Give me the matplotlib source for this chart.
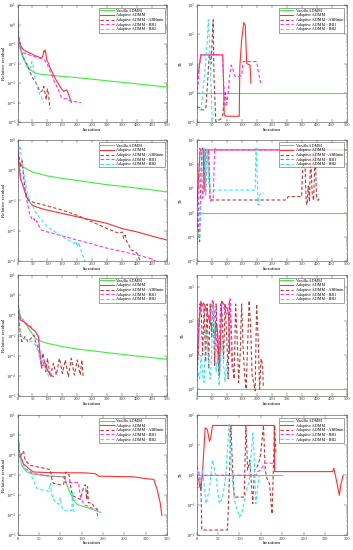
import numpy as np
import matplotlib
matplotlib.use("Agg")
import matplotlib.pyplot as plt
from matplotlib.ticker import LogLocator, NullFormatter

plt.rcParams["font.family"] = ["Liberation Serif", "DejaVu Serif"]
plt.rcParams["mathtext.fontset"] = "stix"

labels = ["Vanilla ADMM", "Adaptive ADMM", "Adaptive ADMM - ABBmin",
          "Adaptive ADMM - BB1", "Adaptive ADMM - BB2"]

# all y values below are log10 of the plotted quantity

# ---- row 1, relative residual
r1_van_it = [0, 3, 9, 15, 26, 35, 42, 55, 65, 80, 100, 132, 200, 300, 400, 500]
r1_van_lg = [0.5, -0.5, -1.13, -1.5, -1.9, -2.15, -2.32, -2.45, -2.5, -2.55, -2.58, -2.63, -2.72, -2.88, -3.04, -3.2]
r1_ada_it = [0, 3, 10, 20, 40, 60, 81, 85, 88, 90, 93, 98, 104, 109, 115, 120, 126, 132, 138, 143, 148, 154, 160, 165, 171, 176, 180]
r1_ada_lg = [0.3, -0.6, -1.05, -1.3, -1.45, -1.6, -1.72, -1.6, -1.35, -1.4, -1.3, -1.81, -2.0, -2.24, -2.4, -2.58, -2.75, -2.92, -3.05, -3.2, -3.3, -3.43, -3.38, -3.35, -3.6, -3.8, -4.0]
r1_abb_it = [0, 3, 9, 15, 25, 32, 37, 42, 48, 55, 62, 68, 73, 78, 82, 88, 92, 96, 100, 104, 108, 110]
r1_abb_lg = [0.3, -0.6, -1.13, -1.5, -1.9, -2.05, -2.24, -2.45, -2.66, -2.85, -3.0, -3.2, -3.35, -3.45, -3.4, -3.17, -3.5, -3.85, -3.3, -3.6, -4.28, -4.3]
r1_bb1_it = [0, 2, 5, 10, 20, 48, 70, 87, 92, 98, 104, 109, 115, 120, 126, 132, 138, 143, 148, 155, 165, 175, 182, 195, 205, 213]
r1_bb1_lg = [0.5, -0.3, -1.0, -1.3, -1.45, -1.6, -1.7, -1.78, -1.85, -2.0, -2.2, -2.4, -2.6, -2.83, -3.0, -3.2, -3.4, -3.6, -3.77, -3.8, -3.8, -3.9, -3.94, -3.95, -4.0, -4.0]
r1_bb2_it = [0, 2, 5, 10, 18, 25, 32, 38, 43, 48, 52, 56, 60, 65, 70, 75, 80, 85, 88]
r1_bb2_lg = [0.7, -0.3, -0.9, -1.3, -1.7, -1.9, -2.2, -2.3, -2.2, -1.9, -2.1, -2.5, -2.9, -3.17, -3.4, -3.6, -3.7, -3.94, -4.0]

# ---- row 1, tau
t1_van_it = [0, 500]
t1_van_lg = [0, 0]
t1_ada_it = [0, 9, 14, 87, 90, 92, 96, 142, 144, 150, 157, 162, 167, 178, 181]
t1_ada_lg = [0.44, 0.9, 1.3, 1.3, 0.2, -0.75, -0.8, -0.8, 0.9, 1.8, 2.4, 2.32, 1.0, 0.95, 0.33]
t1_abb_it = [0, 10, 15, 25, 31, 38, 42, 48, 52, 55, 58, 64, 70, 80, 87, 92, 96, 100]
t1_abb_lg = [-0.47, -0.5, -0.58, -0.58, -0.5, 0.6, 1.3, 1.0, 1.8, 2.5, 0.5, -0.98, -0.95, -0.9, -0.75, -0.25, 0.0, -0.35]
t1_bb1_it = [0, 5, 9, 14, 87, 90, 95, 100, 105, 110, 115, 120, 125, 130, 140, 150, 155, 165, 175, 190, 200, 210, 213]
t1_bb1_lg = [-0.1, 0.3, 0.9, 1.3, 1.3, 0.3, -0.4, -0.47, 0.0, 0.6, 0.95, 0.85, 0.65, 0.55, 0.55, 0.6, 1.07, 1.07, 1.07, 1.07, 1.07, 0.5, 0.33]
t1_bb2_it = [0, 5, 15, 22, 29, 35, 39, 44, 49, 53, 60, 70, 81]
t1_bb2_lg = [-0.47, -0.58, -0.58, 0.2, 0.9, 1.7, 2.5, 1.5, 0.0, -1.2, -1.2, -1.2, -1.2]

# ---- row 2, relative residual
r2_van_it = [0, 2, 5, 10, 20, 50, 100, 150, 200, 250, 300, 350, 400, 450, 500]
r2_van_lg = [0, -0.52, -0.79, -0.84, -0.9, -1.06, -1.19, -1.27, -1.34, -1.41, -1.48, -1.53, -1.59, -1.65, -1.72]
r2_ada_it = [0, 5, 10, 20, 30, 40, 50, 60, 80, 100, 150, 200, 250, 300, 350, 400, 450, 500]
r2_ada_lg = [0, -0.84, -1.28, -1.56, -1.88, -2.05, -2.16, -2.2, -2.27, -2.32, -2.43, -2.54, -2.65, -2.76, -2.93, -3.04, -3.18, -3.31]
r2_abb_it = [0, 5, 10, 15, 20, 25, 30, 35, 40, 50, 100, 150, 200, 250, 300, 340, 350, 355, 360, 365, 370, 375, 380, 390, 400, 405, 410]
r2_abb_lg = [0, -0.52, -0.9, -0.68, -1.17, -1.61, -1.83, -1.94, -1.99, -2.05, -2.18, -2.32, -2.49, -2.71, -2.93, -3.09, -3.04, -3.25, -3.15, -3.36, -3.42, -3.53, -3.64, -3.67, -3.75, -3.86, -4.0]
r2_bb1_it = [0, 5, 10, 20, 30, 40, 50, 55, 60, 65, 70, 80, 100, 150, 200, 250, 300, 350, 400, 450, 460]
r2_bb1_lg = [0, -0.73, -1.28, -1.56, -1.94, -2.43, -2.65, -2.6, -2.73, -2.68, -2.82, -2.98, -3.04, -3.17, -3.31, -3.44, -3.58, -3.69, -3.8, -3.93, -4.0]
r2_bb2_it = [0, 3, 8, 15, 20, 30, 40, 50, 60, 80, 100, 150, 190, 195, 200, 205, 210, 218, 225]
r2_bb2_lg = [0, -0.35, -0.19, -0.73, -1.06, -1.61, -2.05, -2.16, -2.38, -2.65, -2.87, -3.2, -3.42, -3.34, -3.53, -3.39, -3.58, -3.8, -4.0]

# ---- row 2, tau
t2_van_it = [0, 500]
t2_van_lg = [0, 0]
t2_ada_it = [0, 5, 8, 12, 22, 25, 28, 500]
t2_ada_lg = [0, 1.14, 1.83, 2.59, 2.59, 0.87, 2.59, 2.59]
t2_abb_it = [0, 5, 10, 15, 20, 25, 30, 35, 40, 45, 50, 300, 305, 350, 355, 360, 365, 368, 372, 376, 380, 385, 390, 395, 400, 405, 410]
t2_abb_lg = [0, -0.5, -1.2, 1.83, 2.66, 2.5, 0.73, 2.59, 2.59, 0.52, 0.52, 0.52, 0.66, 0.66, 2.38, 2.52, 0.45, 0.31, 1.1, 0.45, 2.4, 0.8, 0.5, 2.5, 0.6, 0.5, 0.66]
t2_bb1_it = [0, 5, 10, 15, 20, 25, 30, 40, 45, 50, 55, 60, 65, 460]
t2_bb1_lg = [0, -0.65, 2.66, 2.59, 0.59, 1.5, 2.59, 2.59, 0.45, 0.52, 0.52, 2.66, 2.59, 2.59]
t2_bb2_it = [0, 5, 10, 15, 20, 25, 30, 35, 40, 45, 195, 198, 202, 205, 210, 215, 220, 225]
t2_bb2_lg = [-0.65, -0.93, -1.06, 0.45, 2.52, 2.66, 0.73, 2.66, 1.28, 0.93, 0.93, 2.66, 1.5, 0.31, 0.73, 0.8, 0.8, 0.8]

# ---- row 3, relative residual
r3_van_it = [0, 5, 10, 20, 40, 60, 80, 100, 150, 200, 300, 400, 500]
r3_van_lg = [0.01, -0.9, -1.1, -1.23, -1.73, -2.14, -2.3, -2.39, -2.55, -2.67, -2.85, -3.02, -3.18]
r3_ada_it = [0, 5, 10, 20, 40, 60, 70, 73, 76, 80, 85, 90, 95, 100, 110, 120]
r3_ada_lg = [0.09, -0.9, -1.23, -1.31, -1.56, -1.81, -2.06, -2.6, -2.97, -3.55, -3.46, -3.3, -3.5, -3.71, -3.96, -4.04]
r3_abb_it = [0, 5, 10, 15, 25, 35, 45, 55, 60, 70, 80, 85, 95, 100, 110, 120, 130, 140, 150, 160, 170, 180, 190, 200, 210, 215, 220]
r3_abb_lg = [0.01, -1.23, -1.98, -2.31, -2.06, -2.31, -2.14, -1.98, -2.31, -2.64, -3.46, -2.88, -3.79, -3.13, -4.04, -3.38, -3.96, -3.13, -3.88, -3.21, -4.04, -3.13, -3.96, -3.21, -3.96, -3.21, -4.12]
r3_bb1_it = [0, 5, 10, 20, 40, 60, 70, 73, 77, 80, 85, 90, 95, 100, 108, 115]
r3_bb1_lg = [0.17, -0.8, -1.23, -1.31, -1.5, -1.81, -2.06, -2.6, -3.05, -3.63, -3.55, -3.3, -3.5, -3.71, -3.9, -4.04]
r3_bb2_it = [0, 5, 10, 20, 30, 50, 60, 70, 75, 80, 90, 100, 105]
r3_bb2_lg = [0.5, -1.56, -1.98, -2.14, -2.22, -2.31, -2.47, -2.8, -3.21, -3.3, -3.55, -3.88, -4.04]

# ---- row 3, tau
t3_van_it = [0, 500]
t3_van_lg = [0, 0]
t3_ada_it = [0, 3, 7, 14, 18, 22, 26, 30, 35, 42, 48, 53, 58, 62, 65, 68, 71, 76, 80, 84, 87, 92, 96, 100, 103, 107, 110]
t3_ada_lg = [0.27, 0.86, 1.75, 2.58, 2.43, 2.53, 2.48, 2.38, 2.28, 2.04, 1.89, 1.75, 1.65, 1.55, 1.94, 1.84, 1.55, 0.37, 1.55, 2.58, 2.53, 2.48, 2.43, 2.38, 2.38, 2.14, 1.06]
t3_abb_it = [0, 5, 10, 15, 20, 25, 30, 35, 40, 45, 50, 55, 60, 65, 70, 75, 80, 85, 90, 95, 100, 105, 110, 115, 120, 125, 130, 135, 140, 145, 150, 155, 160, 165, 175, 180, 185, 190, 195, 200, 205, 210, 215, 220, 222]
t3_abb_lg = [0.2, 1.0, 2.5, 2.4, 1.0, 2.4, 0.8, 2.5, 0.6, 2.5, 1.5, 2.55, 0.7, 2.5, 1.2, 0.4, 2.5, 2.2, 0.9, 2.5, 1.6, 0.3, 2.6, 1.9, 0.7, 0.3, 2.5, 1.5, 0.2, 1.0, 2.5, 1.2, 0.4, 0.0, 2.6, 1.8, 0.4, 0.2, -0.05, 2.5, 1.5, 0.0, 0.9, 0.7, 0.1]
t3_bb1_it = [0, 4, 8, 14, 20, 26, 32, 38, 45, 52, 58, 62, 66, 70, 75, 80, 85, 90, 95, 100, 106, 112, 116, 118]
t3_bb1_lg = [0.4, 1.2, 2.0, 2.5, 2.45, 2.4, 2.3, 2.1, 2.0, 2.6, 2.4, 1.7, 1.55, 0.8, 0.6, 2.5, 2.45, 2.4, 2.3, 2.2, 2.45, 2.65, 1.0, 0.6]
t3_bb2_it = [0, 5, 10, 15, 20, 25, 30, 35, 40, 45, 50, 55, 60, 65, 70, 75, 80, 85, 90, 95, 100, 105]
t3_bb2_lg = [0.2, 0.5, 0.3, 1.0, 0.4, 0.2, 1.8, 1.5, 0.8, 0.3, 1.0, 2.4, 1.8, 0.5, 1.0, 0.1, 1.0, 1.4, 0.7, 0.2, 0.8, 0.6]

# ---- row 4, relative residual
r4_van_it = [0, 4, 10, 22, 37, 77, 112, 114, 123, 131, 139, 155, 170, 194]
r4_van_lg = [0.03, -0.94, -1.51, -1.84, -1.95, -2.05, -2.08, -2.4, -2.89, -3.21, -3.46, -3.57, -3.67, -3.86]
r4_ada_it = [0, 5, 14, 26, 37, 77, 116, 155, 182, 190, 272, 295, 319, 327, 334, 338]
r4_ada_lg = [0.27, -0.94, -1.43, -1.67, -1.84, -1.87, -1.88, -1.88, -1.92, -2.05, -2.08, -2.16, -2.21, -2.73, -3.38, -4.02]
r4_abb_it = [0, 6, 14, 18, 30, 77, 80, 84, 100, 108, 113, 120, 127, 131, 147, 155, 159, 162, 164, 166, 174, 178, 186, 190]
r4_abb_lg = [0.19, -1.1, -0.78, -1.27, -1.51, -1.72, -2.16, -2.4, -2.48, -2.45, -1.84, -1.92, -2.89, -3.05, -3.21, -2.57, -2.48, -3.21, -2.57, -3.38, -3.38, -3.54, -3.7, -3.78]
r4_bb1_it = [0, 5, 18, 37, 77, 108, 112, 143, 147, 155, 170, 186, 188]
r4_bb1_lg = [0.51, -0.94, -1.67, -1.92, -2.05, -2.08, -2.37, -2.37, -3.05, -3.46, -3.62, -3.7, -4.19]
r4_bb2_it = [0, 5, 10, 22, 30, 37, 45, 61, 73, 77, 79, 84, 96, 100, 104, 112, 127, 129, 131, 139]
r4_bb2_lg = [0.51, -0.94, -1.51, -1.76, -1.92, -2.24, -2.65, -2.76, -2.81, -2.4, -2.89, -3.21, -3.46, -3.13, -3.62, -3.78, -3.78, -2.81, -3.78, -3.86]

# ---- row 4, tau
t4_van_it = [0, 200]
t4_van_lg = [0, 0]
t4_ada_it = [0, 5, 10, 14, 20, 25, 30, 33, 37, 181, 182, 317, 320, 326, 333, 337, 342]
t4_ada_lg = [0.0, -0.16, -0.5, 0.17, 1.58, 1.53, 1.13, 1.25, 1.66, 1.66, 0.12, 0.12, 0.23, -0.16, -0.67, -0.28, 0.0]
t4_abb_it = [0, 6, 10, 12, 72, 76, 80, 84, 88, 111, 115, 119, 124, 131, 135, 142, 148, 150, 156, 160, 164, 170, 176, 179, 182, 185]
t4_abb_lg = [-0.22, -0.39, -0.22, -1.83, -1.83, -0.28, 1.64, 0.17, -0.73, -0.73, 1.66, 0.17, 0.51, -0.95, 0.17, 0.29, 0.57, 0.8, 1.66, 0.17, -0.1, -0.28, -1.29, 0.17, 1.66, 0.74]
t4_bb1_it = [0, 4, 10, 14, 138, 142, 150, 158, 181, 183]
t4_bb1_lg = [0.29, 0.17, -0.28, 0.0, 0.0, 0.12, 0.17, 0.4, 0.4, 0.4]
t4_bb2_it = [0, 6, 14, 22, 30, 37, 45, 53, 61, 68, 76, 80, 88, 100, 107, 115, 123, 131, 134, 138, 146]
t4_bb2_lg = [-0.44, -0.39, 0.17, -0.95, -0.44, 0.51, -0.05, -0.95, -0.73, 0.0, 1.7, 0.4, -0.84, -1.4, -1.18, -0.56, -0.17, 1.41, 0.74, -0.95, 0.0]

colors = ["#3cf03c", "#ff3030", "#c03838", "#ff30ff", "#30e8f8"]
styles = ["-", "-", "--", "--", "--"]

panels = [
    # (data, xmax, ylim exps, is tau, axes rect)
    ([(r1_van_it, r1_van_lg), (r1_ada_it, r1_ada_lg), (r1_abb_it, r1_abb_lg), (r1_bb1_it, r1_bb1_lg), (r1_bb2_it, r1_bb2_lg)], 500, (-5, 1), False, [0.0496, 0.778, 0.4235, 0.2127]),
    ([(t1_van_it, t1_van_lg), (t1_ada_it, t1_ada_lg), (t1_abb_it, t1_abb_lg), (t1_bb1_it, t1_bb1_lg), (t1_bb2_it, t1_bb2_lg)], 500, (-1, 3), True, [0.557, 0.778, 0.425, 0.2127]),
    ([(r2_van_it, r2_van_lg), (r2_ada_it, r2_ada_lg), (r2_abb_it, r2_abb_lg), (r2_bb1_it, r2_bb1_lg), (r2_bb2_it, r2_bb2_lg)], 500, (-4, 0), False, [0.0496, 0.5255, 0.4235, 0.22]),
    ([(t2_van_it, t2_van_lg), (t2_ada_it, t2_ada_lg), (t2_abb_it, t2_abb_lg), (t2_bb1_it, t2_bb1_lg), (t2_bb2_it, t2_bb2_lg)], 500, (-2, 3), True, [0.557, 0.5255, 0.425, 0.22]),
    ([(r3_van_it, r3_van_lg), (r3_ada_it, r3_ada_lg), (r3_abb_it, r3_abb_lg), (r3_bb1_it, r3_bb1_lg), (r3_bb2_it, r3_bb2_lg)], 500, (-5, 1), False, [0.0496, 0.28, 0.4235, 0.22]),
    ([(t3_van_it, t3_van_lg), (t3_ada_it, t3_ada_lg), (t3_abb_it, t3_abb_lg), (t3_bb1_it, t3_bb1_lg), (t3_bb2_it, t3_bb2_lg)], 500, (-0.2, 3.35), True, [0.557, 0.28, 0.425, 0.22]),
    ([(r4_van_it, r4_van_lg), (r4_ada_it, r4_ada_lg), (r4_abb_it, r4_abb_lg), (r4_bb1_it, r4_bb1_lg), (r4_bb2_it, r4_bb2_lg)], 350, (-5, 1), False, [0.0496, 0.027, 0.4235, 0.218]),
    ([(t4_van_it, t4_van_lg), (t4_ada_it, t4_ada_lg), (t4_abb_it, t4_abb_lg), (t4_bb1_it, t4_bb1_lg), (t4_bb2_it, t4_bb2_lg)], 350, (-2, 2), True, [0.557, 0.027, 0.425, 0.218]),
]

fig = plt.figure(figsize=(3.53, 5.5), dpi=100)

for data, xmax, (ylo, yhi), is_tau, rect in panels:
    ax = fig.add_axes(rect)
    for (it, lg), c, ls, lab in zip(data, colors, styles, labels):
        kw = dict(color=c, lw=0.8, label=lab)
        if ls == "--":
            kw["dashes"] = (3, 2)
        ax.plot(it, 10.0 ** np.array(lg), ls, **kw)
    ax.set_yscale("log")
    ax.set_xlim(0, xmax)
    ax.set_ylim(10.0 ** ylo, 10.0 ** yhi)
    ax.set_xticks(np.arange(0, xmax + 1, 50))
    ax.yaxis.set_major_locator(LogLocator(base=10, numticks=10))
    ax.yaxis.set_minor_locator(LogLocator(base=10, subs=np.arange(2, 10), numticks=10))
    ax.yaxis.set_minor_formatter(NullFormatter())
    ax.tick_params(which="both", direction="in", top=True, right=True,
                   labelsize=3.2, width=0.3, pad=1, colors="#333333")
    ax.tick_params(which="major", length=2)
    ax.tick_params(which="minor", length=1)
    for s in ax.spines.values():
        s.set_linewidth(0.4)
        s.set_color("#444444")
    ax.set_xlabel("Iteration", fontsize=3.8, labelpad=0.5)
    if is_tau:
        ax.set_ylabel(r"$\tau_k$", fontsize=4.2, labelpad=0.3)
    else:
        ax.set_ylabel("Relative residual", fontsize=3.5, labelpad=0.3)
    leg = ax.legend(loc="upper right", fontsize=3, frameon=True, fancybox=False,
                    handlelength=3.2, borderpad=0.3, labelspacing=0.15,
                    handletextpad=0.5, borderaxespad=0.6)
    leg.get_frame().set_edgecolor("#333333")
    leg.get_frame().set_linewidth(0.4)

fig.savefig("out.png", dpi=100)
